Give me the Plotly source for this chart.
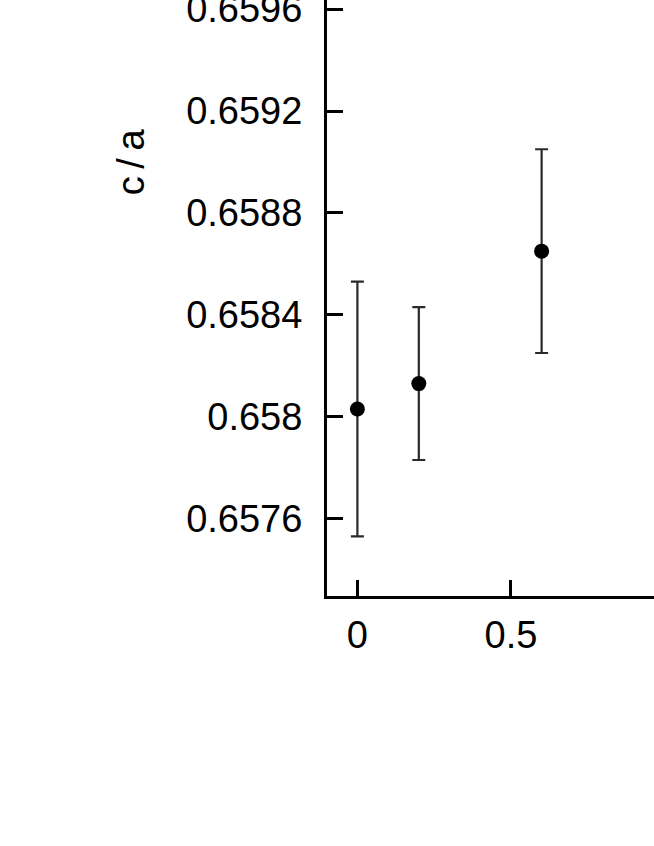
import plotly.graph_objects as go

x_vals = [0.0, 0.2, 0.6]
ca_vals = [0.65803, 0.65813, 0.65865]
ca_err = [0.0005, 0.0003, 0.0004]

y_ticks = [0.6576, 0.658, 0.6584, 0.6588, 0.6592, 0.6596]
y_tick_text = ["0.6576", "0.658", "0.6584", "0.6588", "0.6592", "0.6596"]
x_ticks = [0, 0.5]
x_tick_text = ["0", "0.5"]

FONT = "Liberation Sans"
FS = 38

fig = go.Figure()
fig.add_trace(go.Scatter(
    x=x_vals, y=ca_vals, mode="markers",
    marker=dict(color="black", size=15),
    error_y=dict(type="data", array=ca_err, visible=True,
                 color="#2a2a2a", thickness=2.2, width=6.5),
    showlegend=False,
))

fig.update_layout(
    width=654, height=846,
    margin=dict(l=327, r=0, t=0, b=250, pad=0),
    paper_bgcolor="white", plot_bgcolor="white",
    font=dict(family=FONT, size=FS, color="black"),
    xaxis=dict(range=[-0.099, 0.966], tickvals=x_ticks, ticktext=x_tick_text,
               ticks="inside", ticklen=16, tickwidth=3, tickcolor="black",
               showline=True, linewidth=3, linecolor="black",
               showgrid=False, zeroline=False, ticklabelstandoff=3,
               ticklabeloverflow="allow", automargin=False,
               tickfont=dict(family=FONT, size=FS)),
    yaxis=dict(range=[0.657296, 0.659636], tickvals=y_ticks, ticktext=y_tick_text,
               ticks="inside", ticklen=16, tickwidth=3, tickcolor="black",
               showline=True, linewidth=3, linecolor="black",
               showgrid=False, zeroline=False, ticklabelstandoff=14,
               ticklabeloverflow="allow", automargin=False,
               tickfont=dict(family=FONT, size=FS)),
    annotations=[dict(text="c\u2009/\u2009a", xref="paper", yref="paper",
                      x=-0.600, y=0.729, xanchor="center", yanchor="middle",
                      textangle=-90, showarrow=False,
                      font=dict(family=FONT, size=FS, color="black"))],
)

fig.write_html("out.html", config={"displayModeBar": False},
               post_script="document.body.style.margin='0';document.body.style.overflow='hidden';")
